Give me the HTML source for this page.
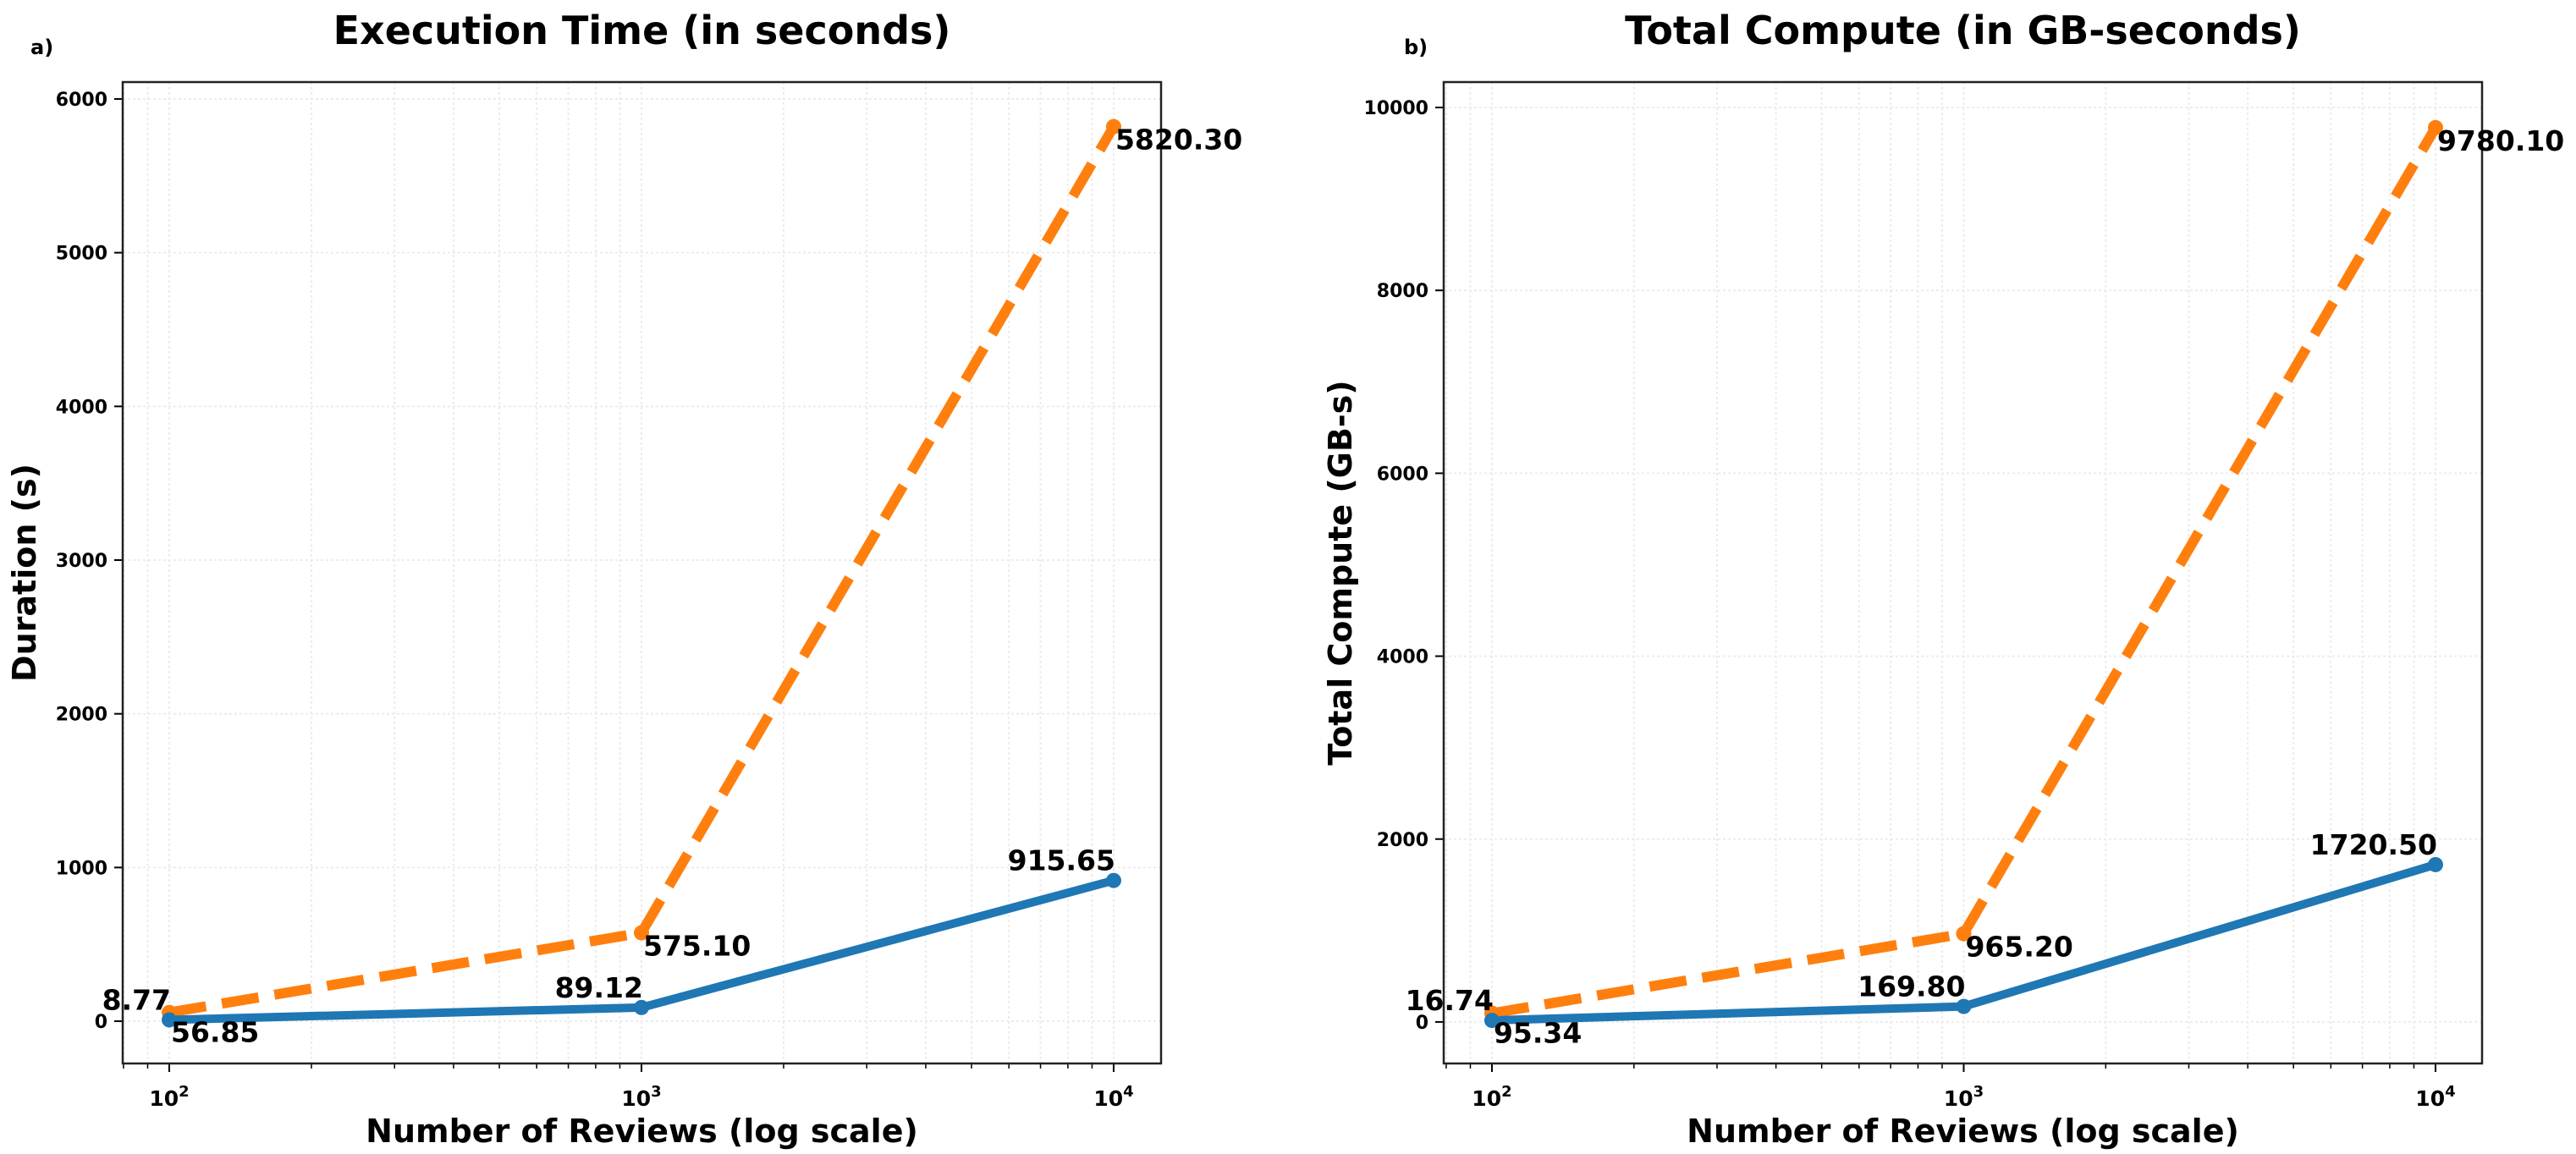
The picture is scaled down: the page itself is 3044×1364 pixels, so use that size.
<!DOCTYPE html>
<html><head><meta charset="utf-8"><style>
html,body{margin:0;padding:0;background:#fff}
svg{display:block}
text{font-family:"DejaVu Sans","Liberation Sans",sans-serif;font-weight:bold;fill:#000}
</style></head><body>
<svg id="chart" width="3044" height="1364" xmlns="http://www.w3.org/2000/svg"></svg>
<script>
const reviews = [100, 1000, 10000];
const durationBlue = [8.77, 89.12, 915.65];
const durationOrange = [56.85, 575.10, 5820.30];
const computeBlue = [16.74, 169.80, 1720.50];
const computeOrange = [95.34, 965.20, 9780.10];
const yTicksA = [0, 1000, 2000, 3000, 4000, 5000, 6000];
const yTicksB = [0, 2000, 4000, 6000, 8000, 10000];

const svg = document.getElementById('chart');
const NS = 'http://www.w3.org/2000/svg';
function mk(tag, attrs, parent) {
  const e = document.createElementNS(NS, tag);
  for (const k in attrs) e.setAttribute(k, attrs[k]);
  (parent || svg).appendChild(e);
  return e;
}

function panel(cfg) {
  const g = mk('g', {});
  
  
  const L = cfg.left, R = cfg.right, T = 97, B = 1257;
  const xs = v => L + (Math.log10(v) - cfg.xmin) / (cfg.xmax - cfg.xmin) * (R - L);
  const ys = v => B - (v - cfg.ymin) / (cfg.ymax - cfg.ymin) * (B - T);
  for (let d = 1; d <= 4; d++) {
    for (let m = 1; m <= 9; m++) {
      const v = m * Math.pow(10, d);
      const lv = Math.log10(v);
      if (lv < cfg.xmin || lv > cfg.xmax) continue;
      const x = xs(v);
      const gl = mk('line', {x1: x, x2: x, y1: T, y2: B, stroke: '#ececec', 'stroke-width': 2, 'stroke-dasharray': '3,3'}, g);
      
      
      const tk = mk('line', {x1: x, x2: x, y1: B, y2: B + (m === 1 ? 10 : 6), stroke: '#000', 'stroke-width': m === 1 ? 2 : 1.5}, g);
      
      
      if (m === 1) {
        const t = mk('text', {x: x, y: B + 50, 'text-anchor': 'middle', 'font-size': 25}, g);
        t.innerHTML = '10<tspan dy="-11" font-size="18">' + d + '</tspan>';
        
        
      }
    }
  }
  cfg.yticks.forEach(v => {
    const y = ys(v);
    const gl = mk('line', {x1: L, x2: R, y1: y, y2: y, stroke: '#ececec', 'stroke-width': 2, 'stroke-dasharray': '3,3'}, g);
    
    
    const tk = mk('line', {x1: L - 10, x2: L, y1: y, y2: y, stroke: '#000', 'stroke-width': 2}, g);
    
    
    const t = mk('text', {x: L - 18, y: y + 8, 'text-anchor': 'end', 'font-size': 22}, g);
    t.textContent = v;
    
    
  });
  const frame = mk('rect', {x: L, y: T, width: R - L, height: B - T, fill: 'none', stroke: '#222', 'stroke-width': 2.5}, g);
  
  
  const ptsO = reviews.map((r, i) => xs(r) + ',' + ys(cfg.orange[i])).join(' ');
  const ptsB = reviews.map((r, i) => xs(r) + ',' + ys(cfg.blue[i])).join(' ');
  const lo = mk('polyline', {points: ptsO, fill: 'none', stroke: '#ff7f0e', 'stroke-width': 12, 'stroke-dasharray': '44,19'}, g);
  
  
  const lb = mk('polyline', {points: ptsB, fill: 'none', stroke: '#1f77b4', 'stroke-width': 10, 'stroke-linejoin': 'round'}, g);
  
  
  reviews.forEach((r, i) => {
    const co = mk('circle', {cx: xs(r), cy: ys(cfg.orange[i]), r: 9, fill: '#ff7f0e'}, g);
    
    
    const cb = mk('circle', {cx: xs(r), cy: ys(cfg.blue[i]), r: 9, fill: '#1f77b4'}, g);
    
    
  });
  reviews.forEach((r, i) => {
    const tb = mk('text', {x: xs(r) + 2, y: ys(cfg.blue[i]) - 12, 'text-anchor': 'end', 'font-size': 33}, g);
    tb.textContent = cfg.blue[i].toFixed(2);
    
    
    const to = mk('text', {x: xs(r) + 2, y: ys(cfg.orange[i]) + 27 + (i === 0 ? 8 : 0), 'text-anchor': 'start', 'font-size': 33}, g);
    to.textContent = cfg.orange[i].toFixed(2);
    
    
  });
  const title = mk('text', {x: (L + R) / 2, y: 52, 'text-anchor': 'middle', 'font-size': 46}, g);
  title.textContent = cfg.title;
  
  
  const xl = mk('text', {x: (L + R) / 2, y: 1350, 'text-anchor': 'middle', 'font-size': 38}, g);
  xl.textContent = 'Number of Reviews (log scale)';
  
  
  const yl = mk('text', {x: 0, y: 0, 'text-anchor': 'middle', 'font-size': 38, transform: 'translate(' + cfg.ylabelX + ',' + ((T + B) / 2) + ') rotate(-90)'}, g);
  yl.textContent = cfg.ylabel;
  
  
  const pl = mk('text', {x: cfg.tagX, y: 64, 'font-size': 24}, g);
  pl.textContent = cfg.tag;
  
  
}

panel({name: 'execution-time-panel', left: 145, right: 1372, xmin: 1.9014, xmax: 4.1004, ymin: -275, ymax: 6110,
  yticks: yTicksA, blue: durationBlue, orange: durationOrange, title: 'Execution Time (in seconds)',
  ylabel: 'Duration (s)', ylabelX: 42, tag: 'a)', tagX: 36});
panel({name: 'total-compute-panel', left: 1706, right: 2933, xmin: 1.8978, xmax: 4.0987, ymin: -454, ymax: 10278,
  yticks: yTicksB, blue: computeBlue, orange: computeOrange, title: 'Total Compute (in GB-seconds)',
  ylabel: 'Total Compute (GB-s)', ylabelX: 1597, tag: 'b)', tagX: 1659});
</script>
</body></html>
